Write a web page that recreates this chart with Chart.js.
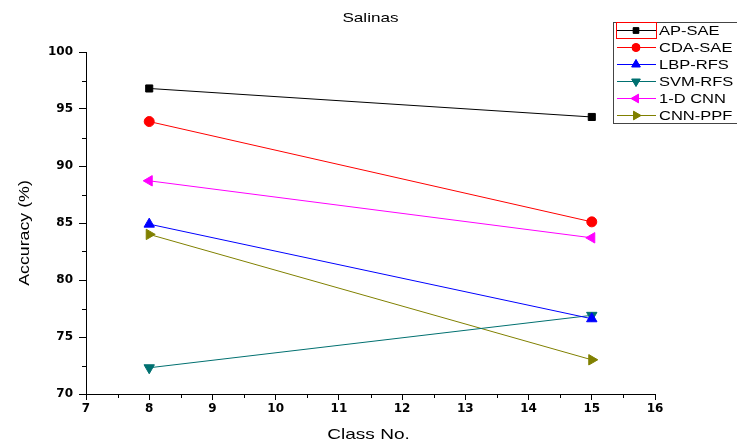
<!DOCTYPE html>
<html><head><meta charset="utf-8">
<script src="https://cdn.jsdelivr.net/npm/chart.js@4.4.0/dist/chart.umd.min.js"></script>
<style>html,body{margin:0;padding:0;background:#fff}#wrap{width:737px;height:443px}</style>
</head><body><div id="wrap"><canvas id="c" width="737" height="443"></canvas></div>
<script>
const classNos = [8, 15];
const seriesNames = ['AP-SAE','CDA-SAE','LBP-RFS','SVM-RFS','1-D CNN','CNN-PPF'];
const apSae  = [96.8, 94.3];
const cdaSae = [93.9, 85.1];
const lbpRfs = [84.9, 76.6];
const svmRfs = [72.3, 76.9];
const cnn1d  = [88.7, 83.7];
const cnnPpf = [84.0, 73.0];
const xTicks = [7,8,9,10,11,12,13,14,15,16];
const yTicks = [70,75,80,85,90,95,100];
const chartTitle = 'Salinas';
const xTitle = 'Class No.';
const yTitle = 'Accuracy (%)';

const colors = ['#000000','#ff0000','#0000ff','#007070','#ff00ff','#808000'];
const styles = ['rect','circle','triangle','triangle','triangle','triangle'];
const rots = [0,0,0,180,270,90];
const allVals = [apSae, cdaSae, lbpRfs, svmRfs, cnn1d, cnnPpf];

const datasets = allVals.map((v,i)=>({
  label: seriesNames[i],
  data: classNos.map((x,j)=>({x:x,y:v[j]})),
  borderColor: colors[i],
  backgroundColor: colors[i],
  borderWidth: 1,
  pointStyle: styles[i],
  rotation: rots[i],
  pointRadius: styles[i]==='rect'?5:(styles[i]==='circle'?5:6),
  pointBorderWidth: 1,
  tension: 0
}));

const FONT = "'Liberation Sans', Arial, sans-serif";
const TICKFONT = "'DejaVu Sans', sans-serif";
const SX = 1.27;

function stretchText(ctx, text, x, y, font, align, rot){
  ctx.save();
  ctx.translate(x, y);
  if (rot) ctx.rotate(rot);
  ctx.scale(SX, 1);
  ctx.font = font;
  ctx.textAlign = align; ctx.textBaseline = 'middle';
  ctx.fillStyle = '#000';
  ctx.fillText(text, 0, 0);
  ctx.restore();
}

const extras = {
  id: 'extras',
  afterDraw(chart){
    const ctx = chart.ctx;
    const xs = chart.scales.x, ys = chart.scales.y;
    ctx.save();
    ctx.strokeStyle = '#000'; ctx.lineWidth = 1;
    for (let i=0;i<xTicks.length-1;i++){
      const px = Math.round(xs.getPixelForValue(xTicks[i]+0.5))+0.5;
      ctx.beginPath(); ctx.moveTo(px, ys.bottom); ctx.lineTo(px, ys.bottom+4); ctx.stroke();
    }
    for (let i=0;i<yTicks.length-1;i++){
      const py = Math.round(ys.getPixelForValue(yTicks[i]+2.5))+0.5;
      ctx.beginPath(); ctx.moveTo(xs.left, py); ctx.lineTo(xs.left-4, py); ctx.stroke();
    }
    stretchText(ctx, chartTitle, (xs.left+xs.right)/2, 18, '13.5px ' + FONT, 'center', 0);
    stretchText(ctx, xTitle, (xs.left+xs.right)/2 - 2, 435, '15px ' + FONT, 'center', 0);
    stretchText(ctx, yTitle, 25, (ys.top+ys.bottom)/2 + 10, '14px ' + FONT, 'center', -Math.PI/2);
    const lx = 613, ly = 22, lw = 126, lh = 101;
    ctx.fillStyle = '#fff';
    ctx.fillRect(lx, ly, lw, lh);
    ctx.strokeStyle = '#444'; ctx.lineWidth = 1;
    ctx.strokeRect(lx+0.5, ly+0.5, lw, lh);
    chart.data.datasets.forEach((d,i)=>{
      const cy = 30 + i*17;
      ctx.strokeStyle = d.borderColor; ctx.lineWidth = 1;
      ctx.beginPath(); ctx.moveTo(617, cy+0.5); ctx.lineTo(656, cy+0.5); ctx.stroke();
      ctx.fillStyle = d.borderColor;
      Chart.helpers.drawPoint(ctx, {pointStyle: d.pointStyle, rotation: d.rotation, radius: d.pointRadius-1, borderWidth: 1}, 636, cy+0.5);
      ctx.fill();
      stretchText(ctx, d.label, 659, cy+1, '13px ' + FONT, 'left', 0);
    });
    ctx.strokeStyle = '#ff0000'; ctx.lineWidth = 1;
    ctx.strokeRect(616.5, 22.5, 40, 16);
    ctx.restore();
  }
};

new Chart(document.getElementById('c'), {
  type: 'line',
  data: { datasets },
  options: {
    responsive: false,
    animation: false,
    layout: { padding: { left: 0, top: 52, right: 82, bottom: 0 } },
    plugins: { legend: { display: false }, title: { display: false }, tooltip: { enabled: false } },
    scales: {
      x: {
        type: 'linear', min: 7, max: 16,
        afterFit(s){ s.height = 49; },
        afterBuildTicks(s){ s.ticks = xTicks.map(v=>({value:v})); },
        grid: { drawOnChartArea: false, drawTicks: true, tickLength: 6, color: '#000', tickColor: '#000' },
        border: { display: true, color: '#000', width: 1 },
        ticks: { color: '#000', padding: 2, font: { family: TICKFONT, size: 12, weight: 'bold' }, maxRotation: 0 },
        title: { display: false }
      },
      y: {
        type: 'linear', min: 70, max: 100,
        afterFit(s){ s.width = 86; },
        afterBuildTicks(s){ s.ticks = yTicks.map(v=>({value:v})); },
        grid: { drawOnChartArea: false, drawTicks: true, tickLength: 7, color: '#000', tickColor: '#000' },
        border: { display: true, color: '#000', width: 1 },
        ticks: { color: '#000', padding: 6, font: { family: TICKFONT, size: 12, weight: 'bold' } },
        title: { display: false }
      }
    }
  },
  plugins: [extras]
});
</script></body></html>
